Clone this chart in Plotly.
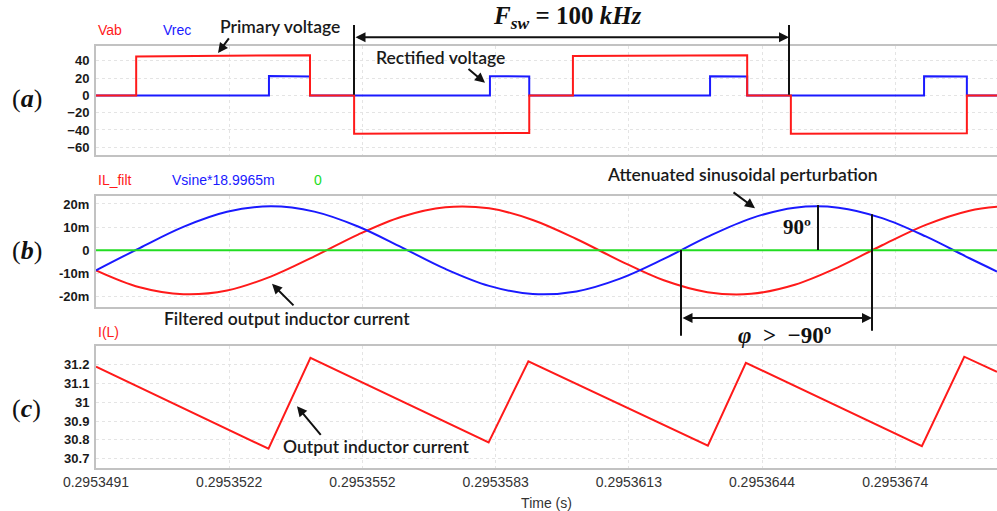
import plotly.graph_objects as go

# ---- time axis (microseconds after the first tick) ----
TICK_US = [0.0, 3.05, 6.10, 9.15, 12.20, 15.25, 18.30]
TICK_TEXT = ["0.2953491", "0.2953522", "0.2953552", "0.2953583",
             "0.2953613", "0.2953644", "0.2953674"]
T_END = 20.63

# ---- (a) bridge voltage and rectified voltage ----
VAB_T = [0.0, 0.92, 0.92, 4.90, 4.90, 5.91, 5.91, 9.92, 9.92,
         10.92, 10.92, 14.91, 14.91, 15.91, 15.91, 19.94, 19.94, 20.63]
VAB_V = [0, 0, 45.2, 46.6, 0, 0, -44.3, -43.5, 0,
         0, 45.6, 46.5, 0, 0, -44.5, -43.7, 0, 0]
VREC_T = [0.0, 3.96, 3.96, 4.90, 4.90, 9.02, 9.02, 9.92, 9.92,
          14.06, 14.06, 14.91, 14.91, 18.96, 18.96, 19.94, 19.94, 20.63]
VREC_V = [0, 0, 22.4, 21.9, 0, 0, 22.2, 22.0, 0,
          0, 22.3, 21.9, 0, 0, 22.2, 22.0, 0, 0]

# ---- (b) filtered inductor current vs. scaled perturbation (mA) ----
SINE_T = [0, 1, 2, 3, 4, 5, 6, 7, 8, 9, 10, 11, 12, 13, 14, 15, 16, 17, 18, 19, 20, 20.63]
IL_FILT = [-8.6, -15.9, -18.9, -17.3, -11.3, -2.6, 6.8, 14.5, 18.6, 18.1, 13.1,
           4.9, -4.5, -12.9, -18.0, -18.7, -14.8, -7.2, 2.2, 11.0, 17.1, 18.8]
VSINE = [-8.6, 1.0, 10.1, 16.6, 19.0, 16.7, 10.3, 1.3, -8.0, -15.3, -18.8,
         -17.7, -12.2, -3.7, 5.8, 13.8, 18.4, 18.4, 13.9, 6.0, -3.4, -9.1]
ZERO_T = [0.0, 20.63]
ZERO_V = [0, 0]

# ---- (c) output inductor current (A) ----
IL_T = [0.0, 3.95, 4.91, 8.99, 9.90, 14.01, 14.88, 18.91, 19.88, 20.63]
IL_V = [31.188, 30.753, 31.235, 30.787, 31.217, 30.769, 31.209, 30.767, 31.241, 31.161]

# ---- axis ticks ----
A_TICKS = [-60, -40, -20, 0, 20, 40]
B_TICKS = [-20, -10, 0, 10, 20]
B_TEXT = ["-20m", "-10m", "0", "10m", "20m"]
C_TICKS = [30.7, 30.8, 30.9, 31.0, 31.1, 31.2]
C_TEXT = ["30.7", "30.8", "30.9", "31", "31.1", "31.2"]

RED, BLUE, GREEN = "#ff1a1a", "#1a1aff", "#22dd22"

W, H = 997, 511
ML, MR, MT, MB = 96, 0, 46, 41
PW, PH = W - ML - MR, H - MT - MB


def px(x):
    return (x - ML) / PW


def py(y):
    return (H - MB - y) / PH


fig = go.Figure()
fig.add_trace(go.Scatter(x=VREC_T, y=VREC_V, mode="lines", line=dict(color=BLUE, width=2),
                         xaxis="x", yaxis="y", name="Vrec"))
fig.add_trace(go.Scatter(x=VAB_T, y=VAB_V, mode="lines", line=dict(color=RED, width=2),
                         xaxis="x", yaxis="y", name="Vab"))
fig.add_trace(go.Scatter(x=SINE_T, y=IL_FILT, mode="lines", line=dict(color=RED, width=2, shape="spline"),
                         xaxis="x2", yaxis="y2", name="IL_filt"))
fig.add_trace(go.Scatter(x=SINE_T, y=VSINE, mode="lines", line=dict(color=BLUE, width=2, shape="spline"),
                         xaxis="x2", yaxis="y2", name="Vsine*18.9965m"))
fig.add_trace(go.Scatter(x=ZERO_T, y=ZERO_V, mode="lines", line=dict(color=GREEN, width=2),
                         xaxis="x2", yaxis="y2", name="0"))
fig.add_trace(go.Scatter(x=IL_T, y=IL_V, mode="lines", line=dict(color=RED, width=2),
                         xaxis="x3", yaxis="y3", name="I(L)"))

FRAME = "#c2c2c2"
GRID = "#e4e4e4"
xbase = dict(range=[0, T_END], domain=[0, 1], showline=True, mirror=True, linecolor=FRAME,
             linewidth=2, showgrid=True, gridcolor=GRID, griddash="dot", gridwidth=1,
             tickvals=TICK_US, ticktext=TICK_TEXT, ticks="", zeroline=False)
ytick_font = dict(family="Liberation Sans", size=13, color="#1a1a1a", weight="bold")
ybase = dict(showline=True, linecolor=FRAME, linewidth=2, showgrid=True, gridcolor=GRID,
             griddash="dot", gridwidth=1, zeroline=False, ticks="", tickfont=ytick_font,
             ticklabelstandoff=2)

dom_a = [py(156), py(46)]
dom_b = [py(308), py(197)]
dom_c = [py(470), py(347)]

fig.update_layout(
    width=W, height=H, margin=dict(l=ML, r=MR, t=MT, b=MB),
    paper_bgcolor="white", plot_bgcolor="white", showlegend=False,
    xaxis=dict(xbase, anchor="y", showticklabels=False),
    xaxis2=dict(xbase, anchor="y2", showticklabels=False, matches="x"),
    xaxis3=dict(xbase, anchor="y3", showticklabels=True, matches="x",
                tickfont=dict(family="Liberation Sans", size=14, color="#333333"),
                title=dict(text="Time (s)", font=dict(family="Liberation Sans", size=14, color="#333333"),
                           standoff=11)),
    yaxis=dict(ybase, domain=dom_a, range=[-69.6, 57.3], tickvals=A_TICKS, anchor="x"),
    yaxis2=dict(ybase, domain=dom_b, range=[-24.3, 23.3], tickvals=B_TICKS, ticktext=B_TEXT, anchor="x2"),
    yaxis3=dict(ybase, domain=dom_c, range=[30.651, 31.300], tickvals=C_TICKS, ticktext=C_TEXT, anchor="x3"),
)

ann = []


def label(text, x, y, color="#1a1a1a", size=17.5, family="Lato", xanchor="center", weight=600):
    ann.append(dict(text=text, x=px(x), y=py(y), xref="paper", yref="paper", showarrow=False,
                    xanchor=xanchor, yanchor="middle",
                    font=dict(family=family, size=size, color=color, weight=weight)))


def arrow(tail, head, both=False):
    ann.append(dict(text="", x=px(head[0]), y=py(head[1]), xref="paper", yref="paper",
                    ax=tail[0] - head[0], ay=tail[1] - head[1], axref="pixel", ayref="pixel",
                    showarrow=True, arrowhead=2, arrowsize=1, arrowwidth=2, arrowcolor="#111111",
                    arrowside="end+start" if both else "end", standoff=0, startstandoff=0,
                    startarrowhead=2, startarrowsize=1))


# trace name labels
sans = "Liberation Sans"
label("Vab", 96, 30, RED, 14, sans, "left", "normal")
label("Vrec", 161, 30, BLUE, 14, sans, "left", "normal")
label("IL_filt", 96, 181, RED, 14, sans, "left", "normal")
label("Vsine*18.9965m", 170, 181, BLUE, 14, sans, "left", "normal")
label("0", 318, 181, GREEN, 14, sans, "center", "normal")
label("I(L)", 96, 333, RED, 14, sans, "left", "normal")

# panel tags
serif = "Liberation Serif"
label("(<b><i>a</i></b>)", 27, 99, "#111111", 26, serif, weight="normal")
label("(<b><i>b</i></b>)", 27, 251, "#111111", 26, serif, weight="normal")
label("(<b><i>c</i></b>)", 26, 410, "#111111", 26, serif, weight="normal")

# descriptive callouts
label("Primary voltage", 280, 26)
label("Rectified voltage", 440, 58)
label("Attenuated sinusoidal perturbation", 742, 175)
label("Filtered output inductor current", 287, 320)
label("Output inductor current", 376, 448)
label("<b><i>F</i><sub><i>sw</i></sub> = 100 <i>kHz</i></b>", 567, 17, "#111111", 25, serif, weight="normal")
label("<b>90º</b>", 797, 228, "#111111", 21, serif, weight="normal")
label("<b><i>φ</i>&nbsp;&nbsp;&gt;&nbsp;&nbsp;−90º</b>", 784, 337, "#111111", 23, serif, weight="normal")

arrow((230, 37), (218, 53))
arrow((467, 68), (485, 83))
arrow((732, 192), (755, 209))
arrow((295, 308), (272, 285))
arrow((322, 438), (297, 408))
arrow((354, 37.3), (789, 37.3), both=True)
arrow((681, 319.3), (872, 319.3), both=True)

fig.update_layout(annotations=ann)

# marker lines
shapes = []
for (x0, y0, x1, y1) in [(354, 25, 354, 95), (789, 25, 789, 95), (818, 205.7, 818, 251),
                         (681, 251, 681, 337), (872, 215, 872, 332)]:
    shapes.append(dict(type="line", xref="paper", yref="paper", x0=px(x0), y0=py(y0),
                       x1=px(x1), y1=py(y1), line=dict(color="#111111", width=2)))
fig.update_layout(shapes=shapes)

fig.write_html("out.html")
